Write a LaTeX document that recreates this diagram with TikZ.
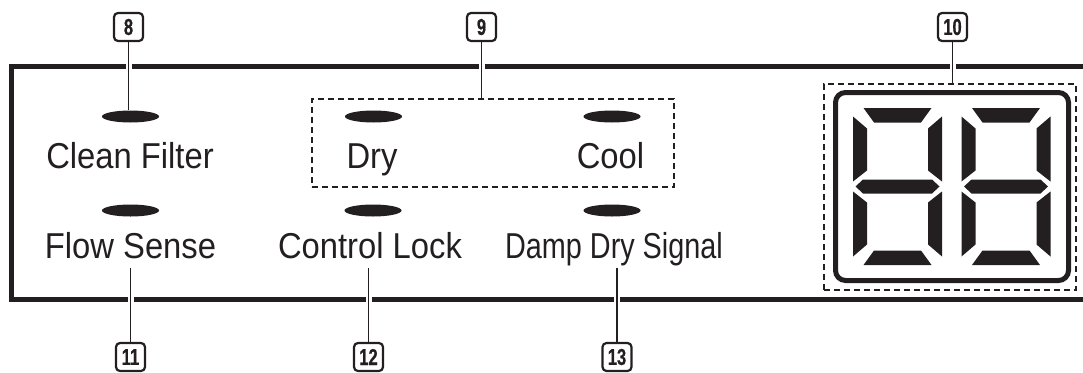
\documentclass[tikz,border=0pt]{standalone}
\usepackage{fontspec}
\setmainfont[FakeStretch=0.91]{Liberation Sans}
\newfontfamily\narrowsans[FakeStretch=0.8]{Liberation Sans}
\newfontfamily\calloutsans[FakeStretch=0.72, FakeBold=0.6]{Liberation Sans Bold}
\usepackage{xcolor}
\definecolor{ink}{RGB}{35,31,32}
\usepackage{tikz}
\usetikzlibrary{shapes.geometric}
\tikzset{
  panelline/.style={draw=ink, line width=5pt},
  lamp/.style={ellipse, fill=ink, minimum width=57pt, minimum height=12pt, inner sep=0pt},
  lamptext/.style={font=\fontsize{36}{40}\selectfont, text=ink, anchor=base,
                   inner sep=0pt, inner ysep=10pt, text depth=0pt},
  callout/.style={draw=ink, line width=2.2pt, rounded corners=4pt,
                  minimum width=29pt, minimum height=28pt, inner sep=1pt,
                  font=\calloutsans\fontsize{23}{23}\selectfont, text=ink},
  leader/.style={draw=ink, line width=1.5pt,
                 preaction={draw=white, line width=6pt, shorten <=3pt, shorten >=3pt}},
  group/.style={draw=ink, line width=2pt, dash pattern=on 6pt off 4pt, inner sep=0pt},
  dispframe/.style={draw=ink, line width=5pt, rounded corners=10pt, inner sep=0pt},
}

\begin{document}
\begin{tikzpicture}[x=1pt, y=-1pt]
\useasboundingbox (0,0) rectangle (1083,372);
% panel edge
\draw[panelline] (1090,66) -- (11,66) -- (11,299) -- (1090,299);

% callout numbers
\node[callout] (n8)  at (128.5,27) {8};
\node[callout] (n9)  at (481.5,27) {9};
\node[callout] (n10) at (952.5,27) {10};
\node[callout] (n11) at (130.5,357) {11};
\node[callout] (n12) at (368.5,357) {12};
\node[callout] (n13) at (617,357) {13};

% lamps and their texts
\node[lamp] (led8)  at (130.5,116.5) {};
\node[lamp] (led9a) at (373.5,116.5) {};
\node[lamp] (led9b) at (612,116.5) {};
\node[lamp] (led11) at (130.5,210.5) {};
\node[lamp] (led12) at (373,210.5) {};
\node[lamp] (led13) at (612,210.5) {};
\node[lamptext] (t8)  at (130,168) {Clean Filter};
\node[lamptext] (t9a) at (372,168) {Dry};
\node[lamptext] (t9b) at (610.5,168) {Cool};
\node[lamptext] (t11) at (130.5,258) {Flow Sense};
\node[lamptext] (t12) at (370,258) {Control Lock};
\node[lamptext] (t13) at (614,258) {\narrowsans Damp Dry Signal};
\node[group, minimum width=362pt, minimum height=88pt] (grp9) at (493,143) {};

% display
\node[group, minimum width=252pt, minimum height=206pt] (grp10) at (950,187) {};
\node[dispframe, minimum width=233pt, minimum height=188pt] (disp) at (952,186.5) {};
\foreach \cx in {897.5,1006}{
  \begin{scope}[shift={(\cx,186.5)}]
    \fill[ink] (-34,-78.5) -- (34,-78.5) -- (23.5,-64) -- (-23.5,-64) -- cycle;
    \fill[ink] (-34,78.5) -- (34,78.5) -- (23.5,64) -- (-23.5,64) -- cycle;
    \fill[ink] (-42,0) -- (-34.5,-7) -- (34.5,-7) -- (42,0) -- (34.5,7) -- (-34.5,7) -- cycle;
    \foreach \s in {1,-1}{
      \fill[ink] ({-44.5*\s},-70) -- ({-30.5*\s},-58) -- ({-30.5*\s},-16) -- ({-44.5*\s},-5) -- cycle;
      \fill[ink] ({-44.5*\s},70) -- ({-30.5*\s},58) -- ({-30.5*\s},16) -- ({-44.5*\s},5) -- cycle;
    }
  \end{scope}
}

% leaders
\draw[leader] (n8.south) -- (n8.south |- led8.north);
\draw[leader] (n9.south) -- (n9.south |- grp9.north);
\draw[leader] (n10.south) -- (n10.south |- grp10.north);
\draw[leader] (n11.north) -- (n11.north |- t11.south);
\draw[leader] (n12.north) -- (n12.north |- t12.south);
\draw[leader] (n13.north) -- (n13.north |- t13.south);
\end{tikzpicture}
\end{document}
